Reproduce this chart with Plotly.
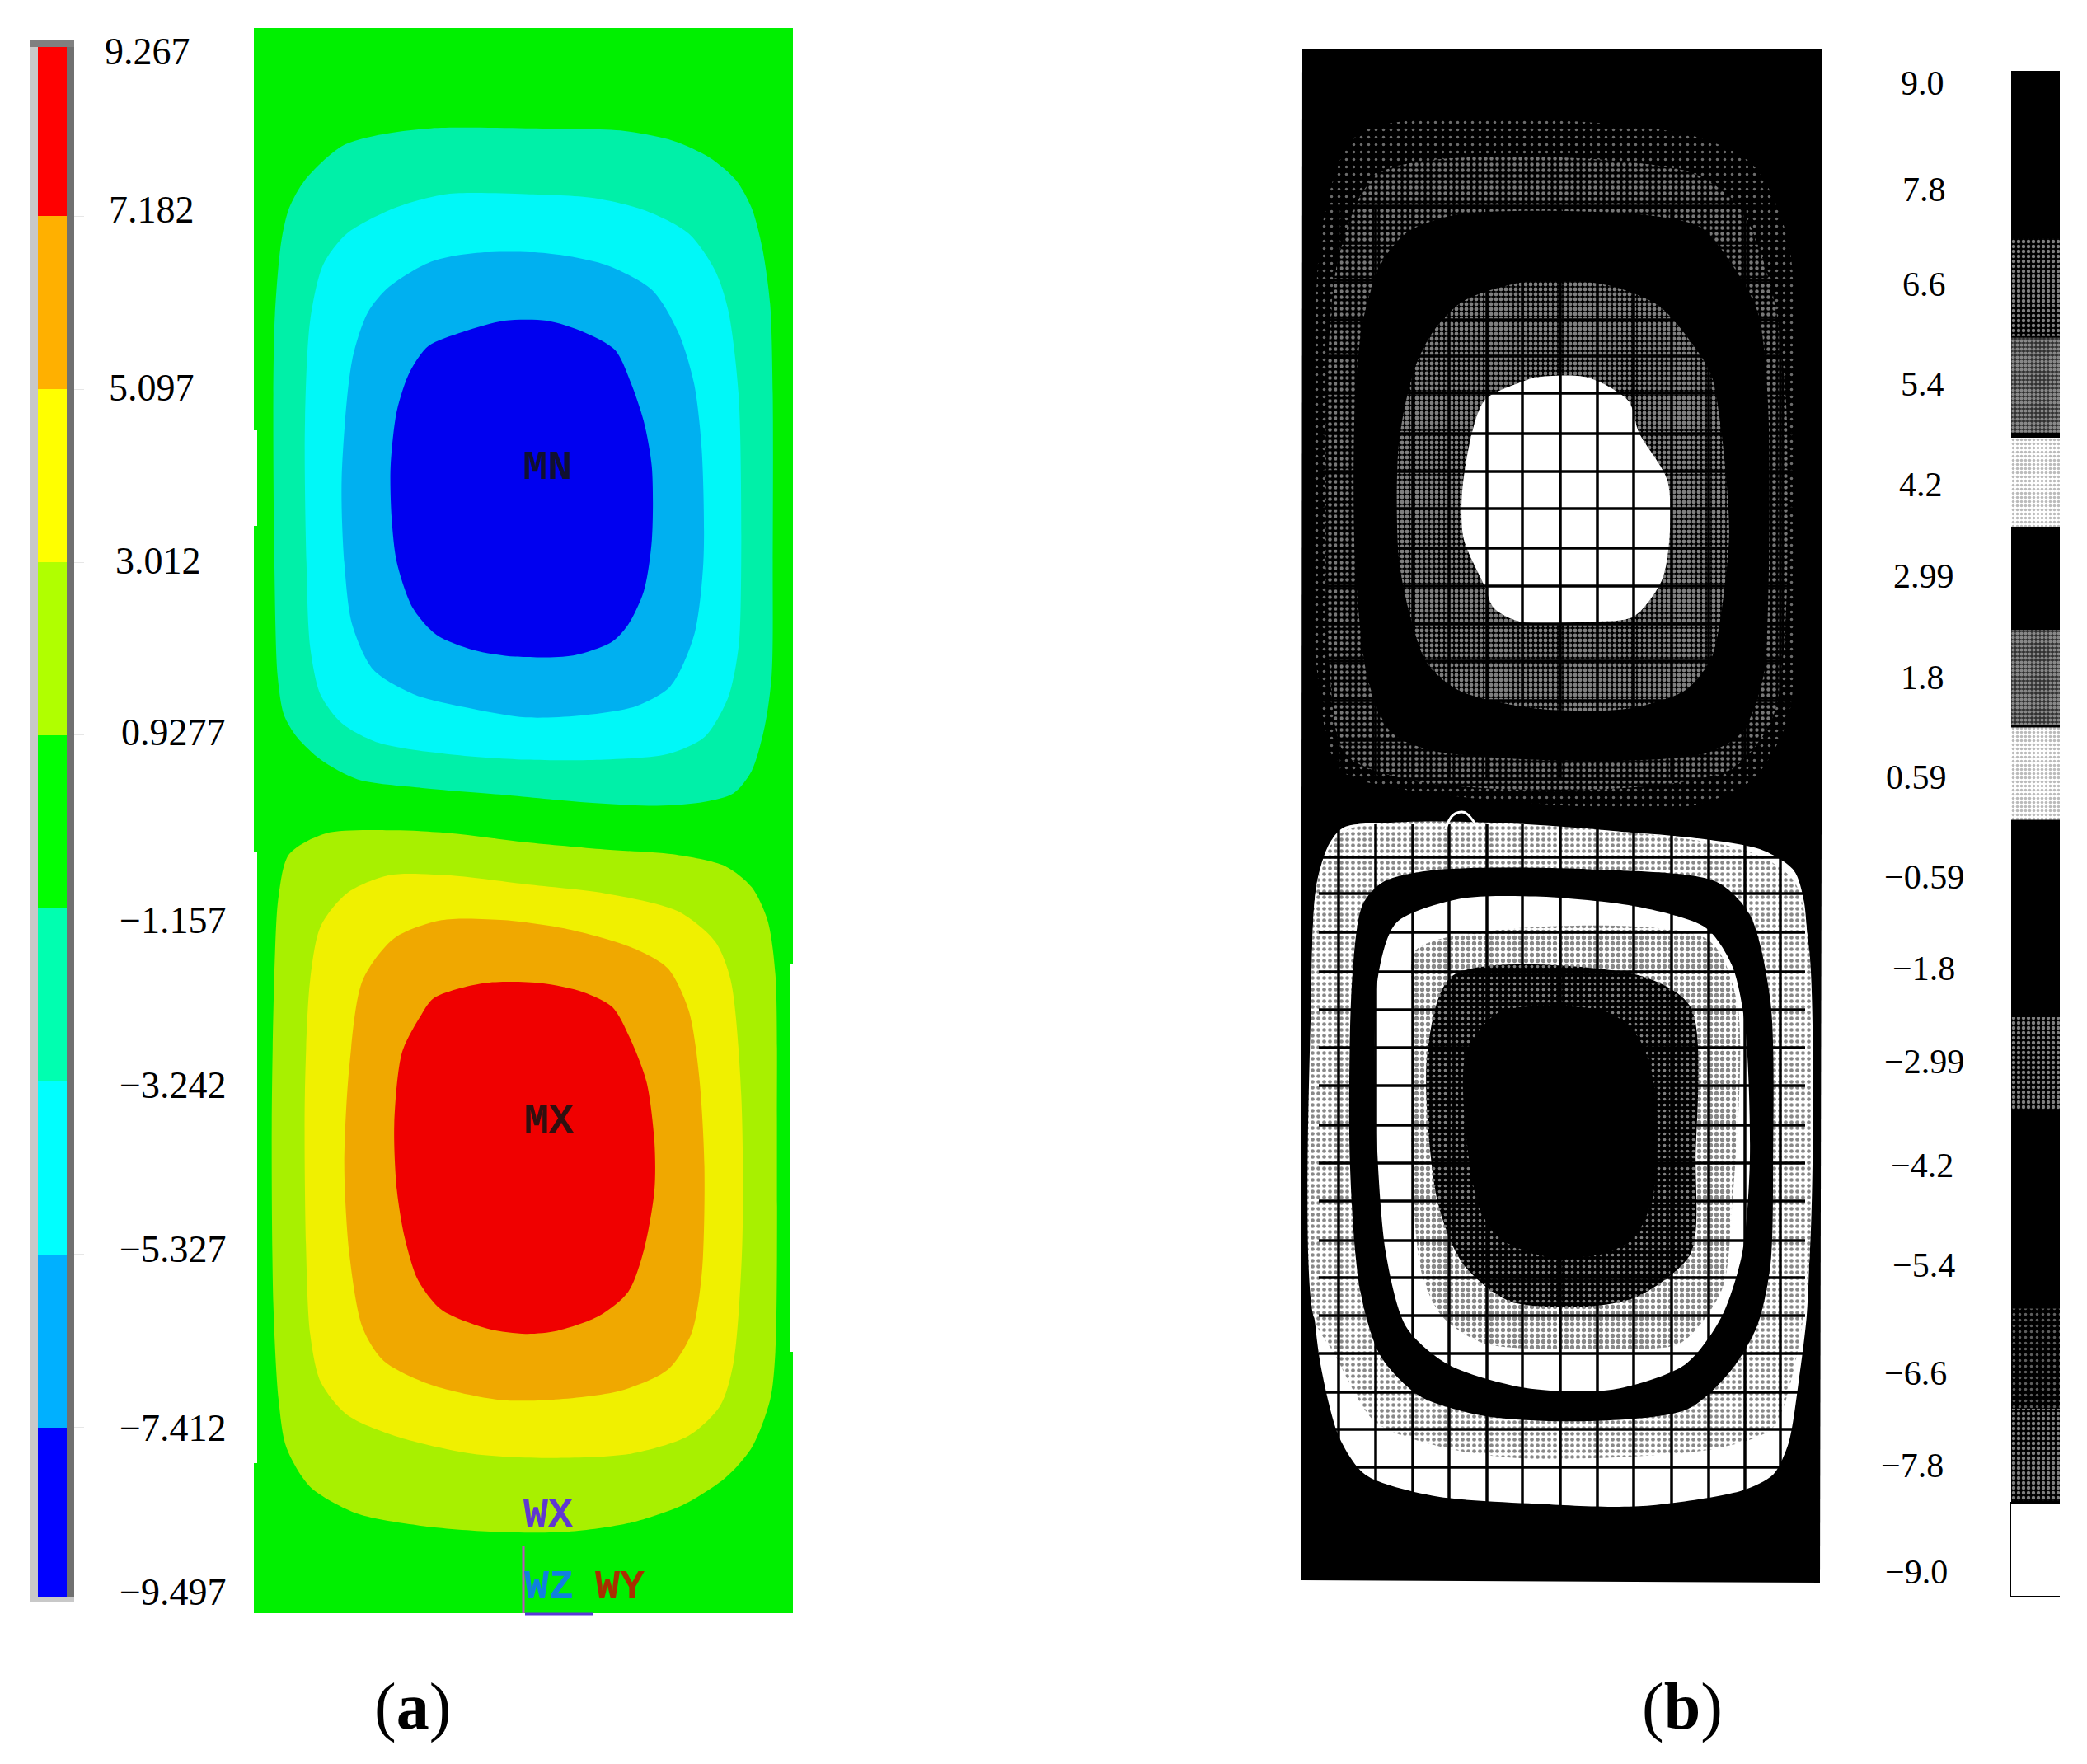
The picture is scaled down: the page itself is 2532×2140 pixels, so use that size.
import plotly.graph_objects as go

W, H = 2532, 2140

# ---------- legend (a): levels and colours ----------
LEVELS_A = [9.267, 7.182, 5.097, 3.012, 0.9277, -1.157, -3.242, -5.327, -7.412, -9.497]
LABELS_A = ["9.267", "7.182", "5.097", "3.012", "0.9277", "−1.157", "−3.242", "−5.327", "−7.412", "−9.497"]
COLORS_A = ["#FF0000", "#FFB000", "#FFFF00", "#B0FF00", "#00FF00", "#00FFB0", "#00FFFF", "#00B0FF", "#0000FF"]

# ---------- legend (b): tick labels and textured segments ----------
LABELS_B = ["9.0", "7.8", "6.6", "5.4", "4.2", "2.99", "1.8", "0.59", "−0.59", "−1.8", "−2.99", "−4.2", "−5.4", "−6.6", "−7.8", "−9.0"]
SEG_DARK = [(7.02, 5.87), (-2.17, -3.26), (-6.79, -7.88)]
SEG_MID = [(5.85, 4.73), (2.40, 1.28)]
SEG_LIGHT = [(4.67, 3.62), (1.25, 0.16)]
SEG_FAINT = [(-5.61, -6.79)]
SEG_WHITE = [(-7.91, -9.0)]

# ---------- contour outlines of panel (a) ----------
A_TEAL = [(820,228),(1000,228),(1180,232),(1280,250),(1350,280),(1400,320),(1430,370),(1450,440),(1465,540),(1470,700),(1470,1000),(1468,1200),(1455,1290),(1430,1370),(1395,1410),(1340,1425),(1250,1432),(1100,1425),(950,1412),(800,1400),(680,1385),(610,1350),(565,1310),(540,1270),(528,1200),(522,1000),(520,700),(523,560),(535,430),(550,370),(580,320),(650,260),(720,240)]
A_CYAN = [(850,345),(1000,345),(1130,352),(1230,375),(1310,415),(1360,480),(1385,550),(1405,700),(1410,1000),(1405,1150),(1385,1240),(1340,1310),(1270,1340),(1150,1350),(1000,1350),(850,1340),(720,1320),(650,1285),(610,1235),(590,1150),(583,1000),(580,760),(590,570),(615,470),(660,415),(750,370)]
A_SKY = [(900,450),(1040,450),(1150,470),(1240,515),(1290,590),(1320,680),(1335,800),(1338,1000),(1320,1130),(1275,1220),(1210,1255),(1100,1272),(1000,1275),(900,1260),(790,1235),(710,1190),(670,1110),(655,1000),(650,850),(670,640),(700,555),(740,510),(820,465)]
A_BLUE = [(960,570),(1040,570),(1110,590),(1170,622),(1200,680),(1225,750),(1240,830),(1240,960),(1225,1050),(1195,1110),(1165,1140),(1090,1165),(980,1167),(900,1155),(830,1128),(785,1080),(755,1000),(745,920),(743,830),(755,730),(780,660),(815,615),(880,590)]
A_LIME = [(620,15),(750,10),(860,15),(1000,30),(1150,42),(1280,50),(1380,70),(1430,105),(1460,160),(1475,250),(1478,500),(1475,880),(1465,960),(1430,1040),(1380,1090),(1300,1135),(1200,1165),(1080,1180),(940,1180),(800,1170),(680,1150),(590,1105),(545,1040),(530,960),(520,800),(517,500),(522,250),(530,120),(550,50)]
A_YELLOW = [(740,85),(850,85),(1000,100),(1150,115),(1290,145),(1360,195),(1390,260),(1410,450),(1412,700),(1395,900),(1370,970),(1310,1020),(1200,1050),(1060,1057),(900,1050),(750,1020),(660,985),(610,930),(590,850),(582,700),(580,450),(590,260),(610,170),(660,115)]
A_ORANGE = [(840,160),(960,160),(1080,175),(1200,205),(1270,240),(1310,310),(1330,420),(1340,570),(1335,750),(1315,850),(1270,910),(1180,945),(1050,960),(950,960),(820,935),(730,895),(690,840),(665,720),(655,570),(665,400),(690,260),(750,190)]
A_RED = [(920,265),(1030,265),(1110,280),(1165,305),(1200,360),(1230,430),(1245,530),(1245,610),(1225,710),(1195,780),(1140,820),(1060,845),(1000,850),(930,842),(840,810),(795,760),(770,690),(755,610),(750,500),(765,380),(800,320),(825,290)]
A_FRAME = [(308,34),(962,34),(962,1169),(958,1169),(958,1640),(962,1640),(962,1957),(308,1957),(308,1775),(312,1775),(312,1033),(308,1033),(308,638),(312,638),(312,522),(308,522)]

# ---------- outlines of panel (b) ----------
B_FRAME = [(1580,59),(2210,59),(2210,1000),(2208,1920),(1578,1917)]
BT_SPARSE = [(160,190),(780,190),(920,250),(990,400),(1000,1000),(990,1300),(920,1420),(800,1470),(250,1440),(120,1400),(75,1200),(70,700),(90,350)]
BT_MED = [(200,265),(800,265),(900,340),(960,500),(985,700),(985,1100),(960,1300),(880,1400),(600,1440),(250,1420),(130,1370),(100,1200),(95,700),(120,420)]
BT_RING = [(350,345),(700,345),(820,370),(880,440),(930,530),(950,700),(950,1100),(940,1230),(900,1330),(830,1370),(600,1385),(300,1365),(220,1330),(175,1230),(150,1000),(150,700),(165,550),(200,440),(250,380)]
BT_INNER = [(500,470),(640,480),(740,520),(810,600),(840,650),(860,760),(875,950),(860,1100),(840,1190),(790,1250),(680,1285),(500,1285),(350,1250),(290,1200),(260,1120),(235,1000),(235,780),(265,640),(300,570),(360,510)]
BT_CORE = [(500,655),(600,655),(680,700),(700,760),(755,850),(760,950),(745,1040),(690,1110),(600,1120),(470,1120),(420,1095),(400,1050),(360,960),(360,850),(400,700),(470,665)]
BB_WHITE = [(130,68),(330,62),(500,68),(800,88),(940,112),(1000,150),(1020,210),(1030,400),(1035,640),(1030,900),(1025,1000),(1010,1120),(990,1240),(960,1300),(900,1330),(700,1360),(500,1355),(300,1340),(170,1300),(120,1230),(85,1100),(70,980),(65,700),(65,400),(75,180),(100,100)]
BB_BAND = [(130,75),(900,110),(1000,170),(1030,300),(1030,900),(1000,1100),(960,1210),(850,1250),(500,1270),(330,1250),(190,1200),(110,1070),(70,1000),(65,400),(80,160)]
BB_RING = [(300,150),(600,148),(850,172),(915,235),(955,400),(960,700),(955,900),(930,1015),(880,1100),(795,1175),(600,1198),(400,1188),(275,1150),(200,1075),(160,950),(140,700),(145,350),(165,215),(205,172)]
BB_INNER = [(350,205),(500,200),(700,220),(830,260),(880,330),(905,440),(915,700),(900,880),(860,1000),(790,1090),(650,1138),(480,1135),(330,1090),(250,1020),(210,880),(190,600),(195,350),(230,250)]
BB_MID = [(270,300),(830,280),(890,400),(880,800),(860,950),(780,1050),(650,1060),(400,1050),(320,1000),(280,920),(260,700),(265,420)]
BB_DARK = [(340,350),(700,350),(800,410),(810,700),(800,880),(700,960),(600,980),(450,970),(360,900),(310,780),(290,500)]
BB_CORE = [(430,420),(640,420),(700,470),(730,560),(735,700),(725,780),(690,850),(630,880),(520,885),(430,850),(390,790),(365,650),(365,500)]
BB_ARC = [(325,72),(340,45),(362,40),(385,65)]

GRID_X = [1624,1669,1714,1758,1804,1847,1893,1938,1982,2028,2073,2117,2160]
GRID_Y = [250,295,340,388,432,477,526,572,617,665,711,757,802,850,898,945,993,1040,1084,1131,1179,1225,1271,1317,1365,1411,1457,1505,1550,1596,1642,1689,1734,1780]

# reading scales of the enlarged views the outlines were read from
a_top = lambda p: [(x / 1.568, y / 1.465) for x, y in p]
a_bot = lambda p: [(x / 1.568, 1000 + y / 1.375) for x, y in p]
b_top = lambda p: [(1550 + x / 1.597, 40 + y / 1.568) for x, y in p]
b_bot = lambda p: [(1550 + x / 1.597, 960 + y / 1.568) for x, y in p]

fig = go.Figure()


def region(pts, color=None, pattern=None, smooth=True):
    xs = [p[0] for p in pts] + [pts[0][0]]
    ys = [p[1] for p in pts] + [pts[0][1]]
    kw = dict(fillpattern=pattern) if pattern else {}
    line = dict(width=0, shape="spline", smoothing=0.8) if smooth else dict(width=0)
    fig.add_trace(go.Scatter(x=xs, y=ys, mode="lines", fill="toself", line=line,
                             fillcolor=color or "rgba(0,0,0,0)", hoverinfo="skip", showlegend=False,
                             xaxis="x", yaxis="y", **kw))


def dots(bg, fg, size, solidity):
    return dict(shape=".", bgcolor=bg, fgcolor=fg, size=size, solidity=solidity)


# panel (a)
region(A_FRAME, "#00F000", smooth=False)
region(a_top(A_TEAL), "#00F0A8")
region(a_top(A_CYAN), "#00F8F8")
region(a_top(A_SKY), "#00B0F0")
region(a_top(A_BLUE), "#0000F0")
region(a_bot(A_LIME), "#A8F000")
region(a_bot(A_YELLOW), "#F0F000")
region(a_bot(A_ORANGE), "#F0A800")
region(a_bot(A_RED), "#F00000")

# panel (b)
region(B_FRAME, "#000000", smooth=False)
region(b_top(BT_SPARSE), None, dots("#000000", "#d8d8d8", 9, 0.12))
region(b_top(BT_MED), None, dots("#000000", "#f0f0f0", 7, 0.32))
region(b_top(BT_RING), "#000000")
region(b_top(BT_INNER), None, dots("#000000", "#ffffff", 6, 0.52))
region(b_top(BT_CORE), "#ffffff")
region(b_bot(BB_WHITE), "#ffffff")
region(b_bot(BB_BAND), None, dots("#ffffff", "#111111", 7, 0.36))
region(b_bot(BB_RING), "#000000")
region(b_bot(BB_INNER), "#ffffff")
region(b_bot(BB_MID), None, dots("#ffffff", "#111111", 7, 0.45))
region(b_bot(BB_DARK), None, dots("#000000", "#ffffff", 7, 0.22))
region(b_bot(BB_CORE), "#000000")

gx, gy = [], []
for v in GRID_X:
    gx += [v, v, None]
    gy += [1000, 1905, None]
    gx += [v, v, None]
    gy += [250, 945, None]
for v in GRID_Y:
    gx += [1600, 2190, None]
    gy += [v, v, None]
fig.add_trace(go.Scatter(x=gx, y=gy, mode="lines", line=dict(color="#000000", width=3.5),
                         hoverinfo="skip", showlegend=False, xaxis="x", yaxis="y"))
arc = b_bot(BB_ARC)
fig.add_trace(go.Scatter(x=[p[0] for p in arc], y=[p[1] for p in arc], mode="lines",
                         line=dict(color="#ffffff", width=3, shape="spline"),
                         hoverinfo="skip", showlegend=False, xaxis="x", yaxis="y"))

# triad lines of panel (a)
fig.add_trace(go.Scatter(x=[635, 635], y=[1875, 1957], mode="lines", line=dict(color="#C050C0", width=3),
                         hoverinfo="skip", showlegend=False, xaxis="x", yaxis="y"))
fig.add_trace(go.Scatter(x=[637, 720], y=[1958, 1958], mode="lines", line=dict(color="#5A38D8", width=3),
                         hoverinfo="skip", showlegend=False, xaxis="x", yaxis="y"))

# legend (a)
tops = LEVELS_A[:-1]
bots = LEVELS_A[1:]
fig.add_trace(go.Bar(x=[0] * len(tops), y=[t - b for t, b in zip(tops, bots)], base=bots, width=1,
                     marker=dict(color=COLORS_A, line=dict(width=0)), hoverinfo="skip",
                     showlegend=False, xaxis="x2", yaxis="y2"))


# legend (b)
def seg(segments, color="#000000", pattern=None):
    lo = [s[1] for s in segments]
    hi = [s[0] for s in segments]
    m = dict(color=color, line=dict(width=0))
    if pattern:
        m["pattern"] = pattern
    fig.add_trace(go.Bar(x=[0] * len(lo), y=[h - l for h, l in zip(hi, lo)], base=lo, width=1, marker=m,
                         hoverinfo="skip", showlegend=False, xaxis="x3", yaxis="y3"))


seg([(9.0, -9.0)], "#000000")
seg(SEG_DARK, "#000000", dots("#000000", "#ffffff", 6, 0.42))
seg(SEG_MID, "#000000", dots("#303030", "#e0e0e0", 5, 0.55))
seg(SEG_LIGHT, "#ffffff", dots("#ffffff", "#777777", 5, 0.4))
seg(SEG_FAINT, "#000000", dots("#000000", "#bbbbbb", 7, 0.2))
seg(SEG_WHITE, "#ffffff")


def hidden(**kw):
    return dict(visible=False, fixedrange=True, **kw)


layout = dict(
    width=W, height=H, margin=dict(l=0, r=0, t=0, b=0), paper_bgcolor="#ffffff", plot_bgcolor="rgba(0,0,0,0)",
    barmode="overlay", showlegend=False,
    xaxis=hidden(domain=[0, 1], range=[0, W]),
    yaxis=hidden(domain=[0, 1], range=[H, 0]),
    xaxis2=hidden(domain=[46 / W, 81 / W], range=[-0.5, 0.5], anchor="y2"),
    yaxis2=dict(domain=[(H - 1942) / H, (H - 52) / H], range=[-9.497, 9.267], anchor="x2", side="right",
                fixedrange=True, showgrid=False, zeroline=False, showline=False, showticklabels=False,
                ticks="outside", ticklen=20, tickwidth=1, tickcolor="#E6E6E6", tickvals=LEVELS_A[1:-1]),
    xaxis3=hidden(domain=[2440 / W, 2499 / W], range=[-0.5, 0.5], anchor="y3"),
    yaxis3=hidden(domain=[(H - 1936) / H, (H - 86) / H], range=[-9.0, 9.0], anchor="x3"),
)
fig.update_layout(**layout)


def frame(x0, x1, y0, y1, color):
    fig.add_shape(type="rect", xref="x", yref="y", x0=x0, x1=x1, y0=y0, y1=y1, fillcolor=color,
                  line=dict(width=0), layer="above")


frame(37, 46, 48, 1943, "#C8C8C8")
frame(81, 90, 48, 1943, "#707070")
frame(37, 90, 48, 57, "#808080")
frame(37, 90, 1938, 1943, "#C8C8C8")
fig.add_shape(type="line", xref="x", yref="y", x0=2439, x1=2439, y0=1822, y1=1938, line=dict(color="#000000", width=2))
fig.add_shape(type="line", xref="x", yref="y", x0=2438, x1=2499, y0=1937, y1=1937, line=dict(color="#000000", width=2))
fig.add_shape(type="line", xref="x", yref="y", x0=2438, x1=2499, y0=1823, y1=1823, line=dict(color="#000000", width=2))


def label(text, x, y, size=46, color="#000000", family="Liberation Serif"):
    fig.add_annotation(text=text, x=x, y=y, xref="x", yref="y", showarrow=False, xanchor="center", yanchor="middle",
                       font=dict(size=size, color=color, family=family))


POS_A = [(179, 62), (184, 254), (184, 470), (192, 680), (210, 888), (209, 1116), (209, 1316), (209, 1515), (209, 1732), (209, 1931)]
for t, (x, y) in zip(LABELS_A, POS_A):
    label(t, x, y)

POS_B = [(2332, 101), (2334, 230), (2334, 345), (2332, 466), (2330, 588), (2334, 699), (2332, 822), (2325, 943),
         (2334, 1064), (2334, 1175), (2334, 1288), (2332, 1414), (2334, 1535), (2324, 1666), (2320, 1778), (2325, 1907)]
for t, (x, y) in zip(LABELS_B, POS_B):
    label(t, x, y, size=42)

label("(<b>a</b>)", 500, 2070, size=80)
label("(<b>b</b>)", 2041, 2070, size=80)

MONO = "Liberation Mono"
label("<b>MN</b>", 664, 567, size=50, color="#101030", family=MONO)
label("<b>MX</b>", 666, 1360, size=50, color="#301010", family=MONO)
label("<b>WX</b>", 665, 1838, size=50, color="#6038D0", family=MONO)
label("<b>WZ</b>", 666, 1925, size=50, color="#1080E0", family=MONO)
label("<b>WY</b>", 752, 1925, size=50, color="#A83000", family=MONO)

fig.write_html("out.html", config=dict(displayModeBar=False),
               post_script="document.body.style.margin='0';document.body.style.overflow='hidden';")
